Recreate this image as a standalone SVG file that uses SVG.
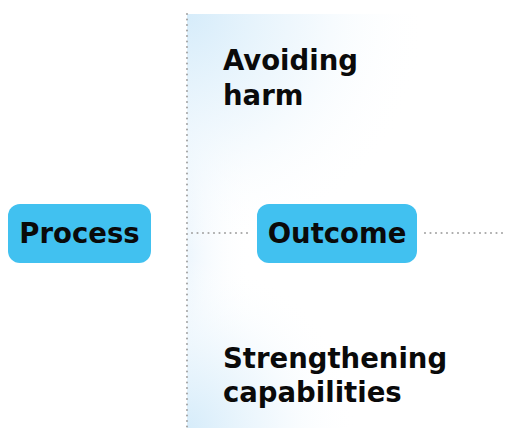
<svg xmlns="http://www.w3.org/2000/svg" width="507" height="430" viewBox="0 0 507 430">
<style>
.box{fill:#41c1f0;}
.lbl{font-family:"DejaVu Sans",Verdana,sans-serif;font-weight:700;fill:#0a0a0a;}
.dot{stroke:#a8a8a8;stroke-width:2.2;stroke-dasharray:0 5.5;stroke-linecap:round;fill:none;}
</style>
<defs>
<radialGradient id="tl" gradientUnits="userSpaceOnUse" cx="187" cy="14" r="240">
<stop offset="0" stop-color="#d6ecfa" stop-opacity="1"/>
<stop offset="0.5" stop-color="#eef7fd" stop-opacity="0.8"/>
<stop offset="1" stop-color="#ffffff" stop-opacity="0"/>
</radialGradient>
<radialGradient id="bl" gradientUnits="userSpaceOnUse" cx="187" cy="428" r="170">
<stop offset="0" stop-color="#d6ecfa" stop-opacity="1"/>
<stop offset="0.5" stop-color="#eef7fd" stop-opacity="0.8"/>
<stop offset="1" stop-color="#ffffff" stop-opacity="0"/>
</radialGradient>
<linearGradient id="lf" x1="0" y1="0" x2="1" y2="0">
<stop offset="0" stop-color="#edf6fd"/>
<stop offset="0.2" stop-color="#ffffff" stop-opacity="0"/>
</linearGradient>
</defs>
<rect x="187" y="14" width="320" height="414" fill="url(#lf)"/>
<rect x="187" y="14" width="320" height="414" fill="url(#tl)"/>
<rect x="187" y="14" width="320" height="414" fill="url(#bl)"/>
<g id="connectors">
<line class="dot" x1="187" y1="14" x2="187" y2="428"/>
<line class="dot" x1="192" y1="233" x2="250" y2="233"/>
<line class="dot" x1="425" y1="233" x2="507" y2="233"/>
</g>
<g id="process">
<rect class="box" x="8" y="204" width="143" height="59" rx="12"/>
<text class="lbl" x="79.5" y="243" font-size="27.5" text-anchor="middle">Process</text>
</g>
<g id="outcome">
<rect class="box" x="257" y="204" width="160" height="59" rx="12"/>
<text class="lbl" x="337" y="243" font-size="27.5" text-anchor="middle">Outcome</text>
</g>
<g id="avoiding-harm">
<text class="lbl" x="223" y="70" font-size="27.5">Avoiding</text>
<text class="lbl" x="223" y="105" font-size="27.5">harm</text>
</g>
<g id="strengthening">
<text class="lbl" x="223" y="368" font-size="27.5">Strengthening</text>
<text class="lbl" x="223" y="402" font-size="27.5">capabilities</text>
</g>
</svg>
